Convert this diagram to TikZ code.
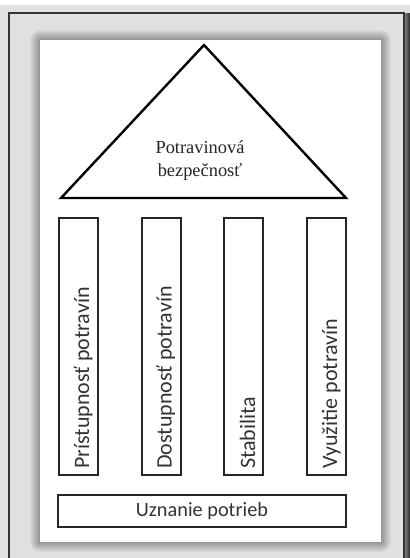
\documentclass[tikz,border=0pt]{standalone}
\usepackage{fontspec}
\setmainfont{Liberation Serif}
\newfontfamily\pillarfont{Carlito}
\usetikzlibrary{positioning,calc}
\definecolor{framegray}{HTML}{E1E1E1}
\tikzset{
  pillar/.style={draw=black!85,line width=2pt,minimum width=39pt,
    minimum height=257pt,inner sep=0pt},
  pillartext/.style={rotate=90,anchor=base west,inner sep=0pt,
    font=\pillarfont\fontsize{22}{26}\selectfont,text=black!80},
  basebox/.style={draw=black!85,line width=2pt,minimum width=288pt,
    minimum height=32pt,inner sep=0pt,
    font=\pillarfont\fontsize{20.3}{24}\selectfont,text=black!80},
  roof/.style={draw=black,line width=2.4pt,line join=miter},
  title/.style={align=center,font=\fontsize{18.4}{23}\selectfont,text=black!85}
}
\begin{document}
\begin{tikzpicture}[x=1pt,y=-1pt]
  \useasboundingbox (0,0) rectangle (410,558);
  % window frame
  \fill[white] (0,0) rectangle (410,5);
  \fill[framegray] (0,5) rectangle (410,558);
  \shade[left color=black!45,right color=black!85] (404,13) rectangle (410,558);
  \draw[line width=1.4pt,black!80] (9,558) -- (9,13) -- (404,13) -- (404,558);
  % page with soft shadow
  \foreach \s in {1,...,10}
    \fill[black,opacity=0.035,rounded corners=\s pt] (40-\s,40-\s) rectangle (381+\s,542+\s);
  \fill[white] (40,40) rectangle (381,542);
  % roof
  \coordinate (apex) at (204,45);
  \coordinate (eaveL) at (61,198);
  \coordinate (eaveR) at (346,198);
  \draw[roof] (eaveL) -- (apex) -- (eaveR) -- cycle;
  \node[title] (fs) at (200,161) {Potravinová\\bezpečnosť};
  % pillars
  \node[pillar] (p1) at (78.5,346.5) {};
  \node[pillar] (p2) at (161,346.5) {};
  \node[pillar] (p3) at (243,346.5) {};
  \node[pillar] (p4) at (326.5,346.5) {};
  \node[pillartext] (t1) at ($(p1.south)+(10.5,-7)$) {Prístupnosť potravín};
  \node[pillartext] (t2) at ($(p2.south)+(10.5,-7)$) {Dostupnosť potravín};
  \node[pillartext] (t3) at ($(p3.south)+(12,-7)$) {Stabilita};
  \node[pillartext] (t4) at ($(p4.south)+(10.5,-7)$) {Využitie potravín};
  % base
  \node[basebox] (base) at (202,511) {Uznanie potrieb};
\end{tikzpicture}
\end{document}
